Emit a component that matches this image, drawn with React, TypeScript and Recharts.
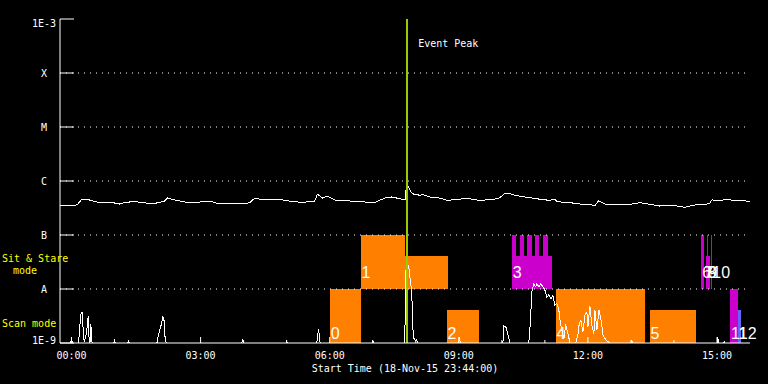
import { ComposedChart, Line, XAxis, YAxis, ReferenceArea, ReferenceLine } from "recharts";

// minutes from 00:00 on 19-Nov-15 (plot starts 23:44 the day before)
const TIME_DOMAIN = [-16, 946];
const hourTicks = [0, 60, 120, 180, 240, 300, 360, 420, 480, 540, 600, 660, 720, 780, 840, 900];
const majorTicks = [0, 180, 360, 540, 720, 900];
const majorLabels = ["00:00", "03:00", "06:00", "09:00", "12:00", "15:00"];

const levelValues = [1e-9, 1e-8, 1e-7, 1e-6, 1e-5, 1e-4, 1e-3];
const levelLabels = ["1E-9", "A", "B", "C", "M", "X", "1E-3"];

const EVENT_PEAK = 468;

// GOES 14 long channel flux [minute, W/m2]
const goesFlux: [number, number][] = [
  [-16, 3.49e-7], [8, 3.6e-7], [14, 4.54e-7], [25, 4.45e-7], [36, 4.08e-7], [53, 4.08e-7], [67, 3.75e-7],
  [74, 4.0e-7], [88, 4.17e-7], [102, 3.92e-7], [116, 3.84e-7], [130, 4.26e-7], [134, 4.84e-7], [144, 4.45e-7],
  [158, 4.08e-7], [179, 4.08e-7], [193, 4.26e-7], [206, 3.75e-7], [225, 3.84e-7], [248, 3.92e-7], [255, 4.74e-7],
  [269, 4.54e-7], [290, 4.54e-7], [304, 4.26e-7], [322, 4.0e-7], [339, 4.26e-7], [343, 5.68e-7], [350, 4.84e-7],
  [356, 5.27e-7], [367, 4.45e-7], [388, 4.26e-7], [409, 4.08e-7], [423, 4.02e-7], [437, 4.84e-7], [446, 5.06e-7],
  [458, 4.7e-7], [465, 4.45e-7], [466, 6.8e-7], [470, 7.74e-7], [473, 6.25e-7], [477, 5.74e-7], [486, 5.43e-7],
  [490, 5.6e-7], [500, 5.06e-7], [513, 4.84e-7], [525, 4.35e-7], [534, 4.6e-7], [555, 4.7e-7], [569, 4.37e-7],
  [590, 4.6e-7], [597, 4.91e-7], [604, 5.82e-7], [611, 5.82e-7], [618, 5.43e-7], [632, 5.06e-7], [653, 4.6e-7],
  [667, 4.37e-7], [674, 4.64e-7], [677, 4.14e-7], [695, 3.97e-7], [709, 3.75e-7], [730, 3.55e-7], [735, 4.32e-7],
  [744, 3.75e-7], [758, 3.6e-7], [779, 3.7e-7], [793, 3.97e-7], [806, 3.7e-7], [820, 3.44e-7], [841, 3.5e-7],
  [855, 3.26e-7], [869, 3.6e-7], [883, 3.6e-7], [890, 3.92e-7], [893, 4.5e-7], [901, 4.26e-7], [911, 4.5e-7],
  [932, 4.37e-7], [946, 4.2e-7],
];

// lower trace (scan-mode counts on the same log axis)
const scanTrace: [number, number][] = [
  [-16, 1e-9], [-1, 1e-9], [0, 1.29e-9], [1, 1e-9], [10, 1e-9], [11, 1.67e-9], [13.5, 3.6e-9], [15, 3.7e-9],
  [17, 1.2e-9], [18, 1.1e-9], [20, 1.3e-9], [21.6, 1.9e-9], [23.3, 3.16e-9], [24.4, 1.3e-9], [25.8, 1e-9],
  [27, 2.25e-9], [28.3, 1.05e-9], [29.5, 1e-9], [59, 1e-9], [60, 1.19e-9], [61, 1e-9], [78.5, 1e-9],
  [79.5, 1.09e-9], [80.5, 1e-9], [119, 1e-9], [120, 1.19e-9], [125, 2.15e-9], [127.4, 3.03e-9], [128.8, 2.9e-9],
  [130.7, 1.15e-9], [132.5, 1e-9], [237.5, 1e-9], [238.6, 1.2e-9], [239.7, 1e-9], [299, 1e-9], [300, 1.1e-9],
  [301, 1e-9], [342, 1e-9], [343, 1.29e-9], [344.6, 1.82e-9], [346, 1.1e-9], [347, 1e-9], [419, 1e-9],
  [420, 1.14e-9], [421, 1e-9], [464.7, 1e-9], [466, 2.25e-8], [467.4, 1.5e-8], [470, 2.78e-8], [473, 1.24e-8],
  [474.4, 8.4e-9], [475.4, 3.44e-9], [475.8, 1.98e-9], [477, 1.24e-9], [480, 1.1e-9], [481.4, 1.14e-9],
  [482.8, 1e-9], [540, 1e-9], [541, 1.29e-9], [542, 1e-9], [601.5, 1e-9], [602.8, 2.06e-9], [605.6, 1.98e-9],
  [609.7, 1.24e-9], [611, 1e-9], [637.6, 1e-9], [640, 2.67e-9], [641.8, 8.9e-9], [644.6, 1.25e-8],
  [647.4, 1.09e-8], [648.8, 1.25e-8], [651.6, 1.1e-8], [654.4, 1.25e-8], [657.2, 1.1e-8], [660, 9.6e-9],
  [662.8, 7.1e-9], [665.6, 7.8e-9], [668.4, 6.5e-9], [671.2, 7.5e-9], [674, 5.05e-9], [676.7, 5.5e-9],
  [679.5, 4.08e-9], [681, 2.67e-9], [683.7, 1.74e-9], [686.5, 1.2e-9], [689, 2.2e-9], [692, 1.53e-9], [695, 1e-9],
  [703, 1e-9], [706, 1.4e-9], [707.4, 2.06e-9], [710, 2.67e-9], [713, 1.6e-9], [716, 3.3e-9], [718.6, 3.75e-9],
  [720, 2e-9], [722.8, 4.84e-9], [725.6, 2.06e-9], [728.4, 1.5e-9], [729.8, 4.08e-9], [732.6, 1.74e-9],
  [735.3, 4.08e-9], [738, 2.9e-9], [741, 1.41e-9], [745, 1.14e-9], [750.7, 1e-9], [780, 1e-9], [781, 1.14e-9],
  [782, 1e-9], [900, 1e-9], [901, 1.29e-9], [902, 1e-9], [909, 1e-9], [910, 1.05e-9], [911, 1e-9], [946, 1e-9],
];

// observation blocks: [label, start min, end min, low, high, type]
const observations: [string, number, number, number, number, string][] = [
  ["0", 360, 404, 1e-9, 1e-8, "raster"],
  ["1", 403, 465, 1e-8, 1e-7, "raster"],
  ["", 465, 525, 1e-8, 4.1e-8, "raster"],
  ["2", 523, 568, 1e-9, 4.1e-9, "raster"],
  ["3", 614, 670, 1e-8, 4.1e-8, "sitstare"],
  ["", 614, 620, 1e-8, 1e-7, "sitstare"],
  ["", 625, 631, 1e-8, 1e-7, "sitstare"],
  ["", 635, 642, 1e-8, 1e-7, "sitstare"],
  ["", 646, 652, 1e-8, 1e-7, "sitstare"],
  ["", 657, 664, 1e-8, 1e-7, "sitstare"],
  ["4", 675, 800, 1e-9, 1e-8, "raster"],
  ["5", 806, 871, 1e-9, 4.1e-9, "raster"],
  ["6", 878, 882.3, 1e-8, 1e-7, "sitstare"],
  ["7", 881, 882.3, 1e-8, 1e-7, "sitstare"],
  ["8", 885, 890.6, 1e-8, 4.1e-8, "sitstare"],
  ["9", 886.5, 887.9, 1e-8, 1e-7, "sitstare"],
  ["10", 892, 893.4, 1e-8, 1e-7, "sitstare"],
  ["11", 918, 929, 1e-9, 1e-8, "sitstare"],
  ["12", 929, 933.5, 1e-9, 4.1e-9, "other"],
];

const TYPE_COLORS: Record<string, string> = { raster: "#ff8000", sitstare: "#cc00cc", other: "#6464ff" };

const goesData = goesFlux.map(([t, v]) => ({ t, v }));
const scanData = scanTrace.map(([t, v]) => ({ t, v }));

const FONT = "'DejaVu Sans Mono', monospace";
const LABEL_FONT = "'Liberation Sans', sans-serif";

function BottomTick({ x, y, payload }: any) {
  const i = majorTicks.indexOf(payload.value);
  const axisY = y - 16;
  return (
    <g>
      <line x1={x} x2={x} y1={axisY} y2={axisY - (i >= 0 ? 6 : 3)} stroke="#fff" />
      {i >= 0 && (
        <text x={x} y={y} textAnchor="middle" fill="#fff" fontSize={10} fontFamily={FONT}>
          {majorLabels[i]}
        </text>
      )}
    </g>
  );
}

function TopTick({ x, y, payload }: any) {
  const major = majorTicks.includes(payload.value);
  return <line x1={x} x2={x} y1={y} y2={y + (major ? 6 : 3)} stroke="#fff" />;
}

function LeftTick({ x, y, payload }: any) {
  const i = levelValues.indexOf(payload.value);
  const dy = i === 0 ? 1 : i === levelValues.length - 1 ? 8 : 4;
  return (
    <g>
      <line x1={x + 16} x2={x + 30} y1={y} y2={y} stroke="#fff" />
      <text x={x} y={y + dy} textAnchor="middle" fill="#fff" fontSize={10} fontFamily={FONT}>
        {levelLabels[i]}
      </text>
    </g>
  );
}

function RightTick({ x, y }: any) {
  return <line x1={x} x2={x - 14} y1={y} y2={y} stroke="#fff" />;
}

export default function App() {
  return (
    <div style={{ position: "absolute", left: 0, top: 0, width: 768, height: 384, background: "#000" }}>
      <ComposedChart width={768} height={384} margin={{ top: 19, right: 18, bottom: 0, left: 0 }}>
        <XAxis
          dataKey="t" type="number" domain={TIME_DOMAIN} allowDataOverflow ticks={hourTicks} interval={0}
          height={41} stroke="#fff" tickLine={false} tickSize={0} tickMargin={16} tick={<BottomTick />}
          label={{
            content: ({ viewBox }: any) => (
              <text x={viewBox.x + viewBox.width / 2} y={viewBox.y + 29} textAnchor="middle" fill="#fff"
                fontSize={10} fontFamily={FONT}>
                Start Time (18-Nov-15 23:44:00)
              </text>
            ),
          }}
        />
        <XAxis
          xAxisId="top" orientation="top" dataKey="t" type="number" domain={TIME_DOMAIN} allowDataOverflow
          ticks={hourTicks} interval={0} height={0} stroke="#fff" tickLine={false} tickSize={0} tickMargin={0}
          tick={<TopTick />}
          label={{
            content: ({ viewBox }: any) => (
              <text x={viewBox.x + viewBox.width / 2 - 3} y={13} textAnchor="middle" fill="#fff"
                fontSize={12} fontFamily={FONT}>
                GOES 14 X-Rays:
              </text>
            ),
          }}
        />
        <YAxis
          type="number" scale="log" domain={[1e-9, 1e-3]} allowDataOverflow ticks={levelValues} interval={0}
          width={60} stroke="#fff" tickLine={false} tickSize={0} tickMargin={16} tick={<LeftTick />}
          label={{
            content: () => (
              <g fill="#ffff00" fontSize={10} fontFamily={FONT}>
                <text x={2} y={262}>Sit &amp; Stare</text>
                <text x={13} y={274}>mode</text>
                <text x={2} y={327}>Scan mode</text>
              </g>
            ),
          }}
        />
        <YAxis
          yAxisId="right" orientation="right" type="number" scale="log" domain={[1e-9, 1e-3]} allowDataOverflow
          ticks={levelValues} interval={0} width={0} stroke="#fff" tickLine={false} tickSize={0} tickMargin={0}
          tick={<RightTick />}
        />

        {observations.map(([id, x1, x2, y1, y2, type], i) => (
          <ReferenceArea key={"box" + i} x1={x1} x2={x2} y1={y1} y2={y2} fill={TYPE_COLORS[type]}
            fillOpacity={1} stroke="none" shapeRendering="crispEdges" />
        ))}

        {levelValues.slice(1, -1).map((v) => (
          <ReferenceLine key={"grid" + v} y={v} stroke="#fff" strokeDasharray="1 5" />
        ))}

        <Line data={scanData} dataKey="v" type="linear" stroke="#fff" strokeWidth={1} dot={false}
          isAnimationActive={false} shapeRendering="crispEdges" />
        <Line data={goesData} dataKey="v" type="linear" stroke="#fff" strokeWidth={1} dot={false}
          isAnimationActive={false} shapeRendering="crispEdges" />

        {observations.filter((o) => o[0] !== "").map(([id, x1, x2, y1, y2]) => (
          <ReferenceArea key={"lbl" + id} x1={x1} x2={x2} y1={y1} y2={y2} fillOpacity={0} stroke="none"
            label={{
              content: ({ viewBox }: any) => (
                <text x={viewBox.x + 1} y={viewBox.y + viewBox.height - (y1 === 1e-9 ? 4 : 11)} fill="#fff"
                  fontSize={16} fontFamily={LABEL_FONT}>
                  {id}
                </text>
              ),
            }}
          />
        ))}

        <ReferenceLine x={EVENT_PEAK} stroke="#99cc00" strokeWidth={2} shapeRendering="crispEdges"
          label={{
            content: ({ viewBox }: any) => (
              <text x={viewBox.x + 11} y={viewBox.y + 28} fill="#fff" fontSize={10} fontFamily={FONT}>
                Event Peak
              </text>
            ),
          }}
        />
      </ComposedChart>
    </div>
  );
}
